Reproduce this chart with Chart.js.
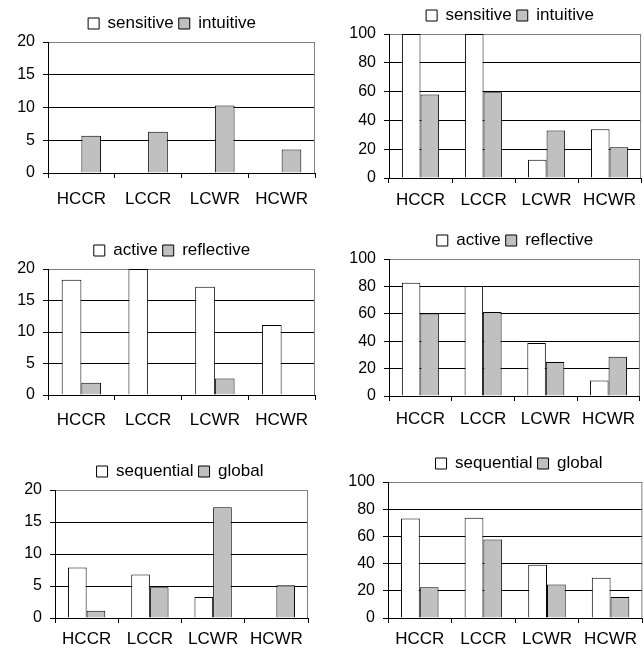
<!DOCTYPE html>
<html>
<head>
<meta charset="utf-8">
<script src="https://cdn.jsdelivr.net/npm/chart.js@4.4.1/dist/chart.umd.min.js"></script>
<style>
  body { margin: 0; background: #fff; }
  #wrap { position: relative; width: 643px; height: 651px; overflow: hidden; }
  canvas { position: absolute; }
</style>
</head>
<body>
<div id="wrap"></div>
<script>
// categories shared by all six charts
const groups = ['HCCR', 'LCCR', 'LCWR', 'HCWR'];

// left column: counts, right column: percentages
const sensitiveCount = [0, 0, 0, 0];
const intuitiveCount = [5.7, 6.3, 10.3, 3.6];
const sensitivePct = [100, 100, 12.7, 33.8];
const intuitivePct = [58, 59.5, 33, 21.4];

const activeCount = [18.3, 20, 17.2, 11.1];
const reflectiveCount = [1.95, 0, 2.6, 0];
const activePct = [82.7, 80.3, 38.6, 11.4];
const reflectivePct = [60.2, 61.4, 24.8, 28.6];

const sequentialCount = [7.9, 6.8, 3.3, 0];
const globalCount = [1.15, 4.8, 17.3, 5.1];
const sequentialPct = [73.1, 73.8, 39.1, 29.6];
const globalPct = [22.7, 57.7, 24.7, 15.4];

// axis ranges
const countMax = 20, countStep = 5;
const pctMax = 100, pctStep = 20;

// layout of each panel: canvas box [left, top, width, height], plot area [left, top, right, bottom],
// horizontal centre of the legend, gap from axis to label centre
const panels = [
  { names: ['sensitive', 'intuitive'], a: sensitiveCount, b: intuitiveCount, max: countMax, step: countStep,
    box: [0, 0, 320, 210], area: [48, 42, 315, 173], legendX: 172, labelGap: 26 },
  { names: ['sensitive', 'intuitive'], a: sensitivePct, b: intuitivePct, max: pctMax, step: pctStep,
    box: [320, 0, 323, 210], area: [389, 34, 643, 178], legendX: 510, labelGap: 22 },
  { names: ['active', 'reflective'], a: activeCount, b: reflectiveCount, max: countMax, step: countStep,
    box: [0, 210, 320, 220], area: [48, 269, 315, 395], legendX: 172, labelGap: 25 },
  { names: ['active', 'reflective'], a: activePct, b: reflectivePct, max: pctMax, step: pctStep,
    box: [320, 210, 323, 220], area: [389, 259, 643, 396], legendX: 515, labelGap: 23 },
  { names: ['sequential', 'global'], a: sequentialCount, b: globalCount, max: countMax, step: countStep,
    box: [0, 430, 320, 221], area: [55, 490, 308, 618], legendX: 180, labelGap: 21 },
  { names: ['sequential', 'global'], a: sequentialPct, b: globalPct, max: pctMax, step: pctStep,
    box: [320, 430, 323, 221], area: [388, 482, 643, 618], legendX: 519, labelGap: 21 }
];

const legendPad = 5;
const legendSize = 17;
const font = 'Liberation Sans, Arial, sans-serif';

// gray plot-area border on the right side
const frame = {
  id: 'frame',
  beforeDatasetsDraw(chart) {
    const a = chart.chartArea, c = chart.ctx;
    c.save();
    c.strokeStyle = '#808080';
    c.lineWidth = 1;
    c.beginPath();
    c.moveTo(a.right - 0.5, a.top);
    c.lineTo(a.right - 0.5, a.bottom);
    c.stroke();
    c.restore();
  }
};

// move the legend so its centre sits where the original one does
const legendShift = {
  id: 'legendShift',
  afterLayout(chart, args, opts) {
    const lg = chart.legend;
    if (!lg) return;
    const d = opts.center - (lg.left + lg.right) / 2;
    lg.left += d;
    lg.right += d;
  }
};

const wrap = document.getElementById('wrap');

panels.forEach((p) => {
  const [bx, by, bw, bh] = p.box;
  const [L, T, R, B] = p.area;
  const cv = document.createElement('canvas');
  cv.width = bw;
  cv.height = bh;
  cv.style.left = bx + 'px';
  cv.style.top = by + 'px';
  wrap.appendChild(cv);

  const yWidth = L - bx;
  const xHeight = by + bh - B;
  const padTop = T - by - legendSize - 10 - legendPad;

  new Chart(cv, {
    type: 'bar',
    data: {
      labels: groups,
      datasets: [
        { label: p.names[0], data: p.a, backgroundColor: '#ffffff', borderColor: '#000', borderWidth: 1,
          categoryPercentage: 0.59, barPercentage: 1 },
        { label: p.names[1], data: p.b, backgroundColor: '#c0c0c0', borderColor: '#000', borderWidth: 1,
          categoryPercentage: 0.59, barPercentage: 1 }
      ]
    },
    options: {
      responsive: false,
      animation: false,
      devicePixelRatio: 1,
      layout: { padding: { top: padTop, right: bx + bw - R, left: 0, bottom: 0 } },
      plugins: {
        legend: {
          labels: { boxWidth: 11, boxHeight: 11, padding: legendPad, color: '#000', font: { family: font, size: legendSize } }
        },
        legendShift: { center: p.legendX - bx },
        tooltip: { enabled: false }
      },
      scales: {
        x: {
          grid: { offset: true, drawOnChartArea: false, tickLength: 5, color: '#000' },
          border: { color: '#000' },
          ticks: { color: '#000', font: { family: font, size: 17 }, padding: p.labelGap - 15 },
          afterFit: (s) => { s.height = xHeight; }
        },
        y: {
          min: 0,
          max: p.max,
          ticks: { stepSize: p.step, color: '#000', font: { family: font, size: 16 }, padding: 8 },
          grid: { color: (ctx) => (ctx.tick && ctx.tick.value === p.max ? '#808080' : '#000'), tickLength: 5, tickColor: '#000' },
          border: { color: '#000' },
          afterFit: (s) => { s.width = yWidth; }
        }
      }
    },
    plugins: [frame, legendShift]
  });
});
</script>
</body>
</html>
